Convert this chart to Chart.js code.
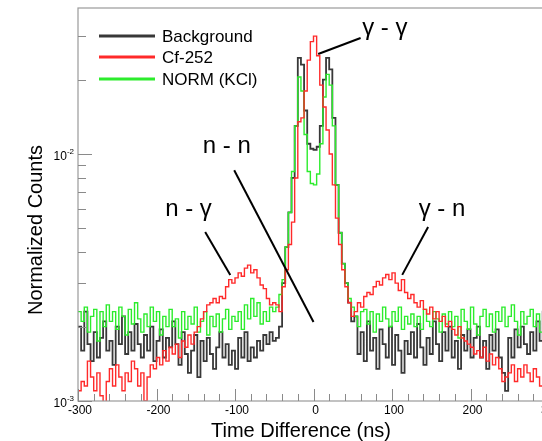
<!DOCTYPE html>
<html>
<head>
<meta charset="utf-8">
<script src="https://cdn.jsdelivr.net/npm/chart.js@4.4.1/dist/chart.umd.min.js"></script>
<style>
  html, body { margin: 0; padding: 0; background: #fff; overflow: hidden; }
  canvas { display: block; }
</style>
</head>
<body>
<canvas id="tofChart" width="560" height="441"></canvas>
<script>
// histogram bins: 4 ns wide, from -300 to 300 ns
const binStart = -300;
const binWidth = 4;
const countUnit = 1e-3; // values below are in units of 1e-3

const background = [
  // -300 .. -200
  2.0, 1.6, 2.3, 1.7, 1.45, 1.9, 1.5, 1.8, 2.1, 1.6, 1.75, 1.4, 2.0, 1.7, 2.2, 1.55, 1.9, 1.6, 2.05, 1.7, 1.5, 1.85, 1.6, 2.0, 1.45,
  // -200 .. -100
  1.75, 1.95, 1.5, 1.8, 1.65, 2.1, 1.7, 1.4, 1.9, 1.55, 1.3, 1.6, 1.85, 1.25, 1.75, 1.45, 1.8, 1.55, 1.35, 1.65, 1.9, 1.5, 1.7, 1.4, 1.6,
  // -100 .. -48
  1.35, 1.8, 1.5, 1.9, 1.45, 1.65, 1.5, 1.75, 1.6, 1.85, 1.7, 1.9, 1.75,
  // -48 .. 48
  1.8, 2.0, 3.0, 4.2, 5.8, 8.0, 13, 24.5, 23, 15, 11, 10.5,
  10.4, 10.7, 13, 20, 24.5, 22, 14, 7.5, 4.8, 3.6, 3.0, 2.5,
  // 48 .. 100
  2.1, 2.2, 1.55, 1.9, 1.45, 2.1, 1.6, 1.8, 1.35, 1.95, 1.7, 1.5, 2.0,
  // 100 .. 200
  1.4, 1.85, 1.6, 1.3, 1.75, 1.55, 1.9, 1.5, 2.05, 1.65, 1.4, 1.8, 1.55, 2.1, 1.7, 1.45, 1.9, 1.6, 2.0, 1.5, 1.75, 1.35, 1.85, 1.6, 1.95,
  // 200 .. 300
  1.5, 1.8, 2.0, 1.5, 1.75, 1.35, 1.85, 1.6, 1.95, 1.5, 1.3, 1.1, 1.8, 1.5, 1.95, 1.65, 2.0, 1.7, 1.55, 1.9, 1.6, 2.1, 1.75, 2.3, 2.7
];

const cf252 = [
  1.1, 1.2, 1.15, 1.45, 1.25, 1.1, 1.3, 1.05, 0.97, 1.2, 1.35, 1.15, 1.4, 1.25, 1.1, 1.3, 1.2, 1.45, 1.35, 1.15, 1.3, 1.0, 1.25, 1.4, 1.35,
  1.5, 1.4, 1.6, 1.45, 1.65, 1.55, 1.7, 1.5, 1.75, 1.65, 1.85, 1.7, 1.9, 2.0, 2.15, 2.3, 2.45, 2.5, 2.6, 2.5, 2.65, 2.6, 2.9, 3.1, 3.0,
  3.15, 3.3, 3.2, 3.45, 3.55, 3.3, 3.4, 3.15, 2.95, 2.85, 2.6, 2.45, 2.5,
  2.45, 2.3, 2.9, 3.4, 4.3, 5.3, 8.0, 13.5, 14, 18, 24, 28.5,
  30, 25, 19, 15.5, 12.5, 10, 7.5, 5.5, 4.3, 3.4, 2.9, 2.5,
  2.2, 2.3, 2.5, 2.4, 2.65, 2.75, 2.7, 2.9, 3.05, 2.95, 3.15, 3.25, 3.1,
  3.3, 3.0, 2.8, 3.1, 2.75, 2.6, 2.7, 2.5, 2.4, 2.55, 2.35, 2.25, 2.4, 2.15, 2.3, 2.1, 2.2, 2.0, 2.1, 1.95, 1.85, 2.0, 1.8, 1.75, 1.7,
  1.65, 1.55, 1.6, 1.5, 1.65, 1.45, 1.55, 1.4, 1.5, 1.35, 1.2, 1.25, 1.3, 1.4, 1.2, 1.35, 1.25, 1.4, 1.3, 1.2, 1.35, 1.25, 1.15, 1.3, 1.2
];

const normKCl = [
  2.3, 2.1, 2.4, 1.9, 2.2, 2.35, 1.75, 2.3, 2.0, 2.45, 2.1, 2.3, 1.95, 2.4, 2.2, 1.85, 2.35, 2.05, 2.5, 2.15, 1.9, 2.25, 2.0, 2.4, 2.1,
  2.3, 1.85, 2.2, 2.0, 2.35, 2.0, 2.15, 1.8, 2.3, 1.95, 2.2, 2.05, 2.4, 1.9, 2.1, 2.3, 1.85, 2.2, 2.0, 2.25, 1.9, 2.15, 2.35, 1.95, 2.2,
  2.1, 2.3, 1.95, 2.45, 2.15, 2.6, 2.2, 2.5, 2.05, 2.3, 2.1, 2.4, 2.3,
  2.4, 2.7, 3.1, 4.2, 5.8, 8.5, 13, 20.5, 18, 12, 8.5, 7.6,
  7.5, 8.3, 11, 17, 21, 19, 13, 7.5, 4.8, 3.6, 3.0, 2.6,
  2.4, 2.2, 2.0, 2.3, 2.35, 2.05, 2.3, 1.9, 2.25, 2.1, 2.4, 2.15, 2.0,
  2.3, 2.1, 2.4, 1.95, 2.2, 2.05, 2.25, 2.0, 2.2, 1.95, 2.35, 2.1, 2.0, 2.3, 2.15, 1.9, 2.25, 2.05, 2.3, 2.0, 2.2, 1.8, 2.35, 2.1, 1.95,
  2.4, 2.05, 1.85, 2.2, 2.35, 2.0, 2.25, 1.9, 2.3, 2.1, 2.4, 2.0, 2.2, 2.45, 2.1, 1.85, 2.3, 2.05, 2.2, 2.35, 2.0, 2.25, 1.9, 2.3, 2.1
];

const xMajorTicks = [-300, -200, -100, 0, 100, 200, 300];
const yDecades = [1e-3, 1e-2];
const yDecadeLabels = ['-3', '-2'];

// peak labels, anchored in data units (ns, counts)
const annotations = [
  { text: 'n - n',  tx: -141, ty: 0.0101, from: [-101, 0.0086], to: [0, 0.00209] },
  { text: 'n - \u03b3', tx: -189, ty: 0.0056, from: [-138, 0.00483], to: [-106, 0.00324] },
  { text: '\u03b3 - n', tx: 134, ty: 0.0056, from: [146, 0.00506], to: [113, 0.00324] },
  { text: '\u03b3 - \u03b3', tx: 62, ty: 0.0303, from: [6, 0.0254], to: [60, 0.0295] }
];

function toSteps(values) {
  const pts = values.map((v, i) => ({ x: binStart + i * binWidth, y: v * countUnit }));
  pts.push({ x: binStart + values.length * binWidth, y: values[values.length - 1] * countUnit });
  return pts;
}

const seriesStyle = [
  { label: 'Background', data: background, color: '#383838', width: 1.8, order: 3 },
  { label: 'Cf-252', data: cf252, color: '#ff2a2a', width: 1.4, order: 1 },
  { label: 'NORM (KCl)', data: normKCl, color: '#2cec2c', width: 1.4, order: 2 }
];

const FONT = '"Liberation Sans", Arial, sans-serif';

const framePlugin = {
  id: 'frame',
  afterDatasetsDraw(chart) {
    const ctx = chart.ctx;
    const a = chart.chartArea;
    const xs = chart.scales.x;
    const ys = chart.scales.y;
    ctx.save();

    // axis box
    ctx.strokeStyle = '#9a9a9a';
    ctx.lineWidth = 1.2;
    ctx.strokeRect(a.left, a.top, a.right - a.left, a.bottom - a.top);

    // x ticks (inward)
    ctx.strokeStyle = '#8a8a8a';
    ctx.lineWidth = 1;
    for (let v = -300; v <= 300; v += 20) {
      const px = Math.round(xs.getPixelForValue(v)) + 0.5;
      const len = (v % 100 === 0) ? 12 : 7;
      ctx.beginPath();
      ctx.moveTo(px, a.bottom);
      ctx.lineTo(px, a.bottom - len);
      ctx.stroke();
    }
    // y ticks (inward), log minor ticks
    yDecades.forEach(d => {
      for (let m = 1; m <= 9; m++) {
        const v = d * m;
        if (v > ys.max) break;
        const py = Math.round(ys.getPixelForValue(v)) + 0.5;
        const len = m === 1 ? 14 : 8;
        ctx.beginPath();
        ctx.moveTo(a.left, py);
        ctx.lineTo(a.left + len, py);
        ctx.stroke();
      }
    });

    // x tick labels
    ctx.fillStyle = '#000';
    ctx.font = '12px ' + FONT;
    ctx.textAlign = 'center';
    ctx.textBaseline = 'alphabetic';
    xMajorTicks.forEach(v => {
      ctx.fillText(String(v), xs.getPixelForValue(v) + 2, a.bottom + 13);
    });

    // y tick labels 10^n
    yDecades.forEach((d, i) => {
      const py = ys.getPixelForValue(d);
      ctx.font = '8px ' + FONT;
      ctx.textAlign = 'right';
      const supW = ctx.measureText(yDecadeLabels[i]).width;
      ctx.fillText(yDecadeLabels[i], a.left - 4, py + 0);
      ctx.font = '12px ' + FONT;
      ctx.fillText('10', a.left - 4 - supW, py + 6);
    });

    // axis titles
    ctx.font = '20px ' + FONT;
    ctx.textAlign = 'center';
    ctx.fillText('Time Difference (ns)', 301, 437);
    ctx.save();
    ctx.translate(42, 230);
    ctx.rotate(-Math.PI / 2);
    ctx.fillText('Normalized Counts', 0, 0);
    ctx.restore();

    // legend
    ctx.font = '17px ' + FONT;
    ctx.textAlign = 'left';
    ctx.textBaseline = 'middle';
    const legendY = [36, 57, 79];
    seriesStyle.forEach((s, i) => {
      ctx.strokeStyle = s.color;
      ctx.lineWidth = 3;
      ctx.beginPath();
      ctx.moveTo(99, legendY[i]);
      ctx.lineTo(155, legendY[i]);
      ctx.stroke();
      ctx.fillStyle = '#000';
      ctx.fillText(s.label, 162, legendY[i] + 1);
    });

    // peak annotations
    ctx.font = '24px ' + FONT;
    ctx.textBaseline = 'alphabetic';
    ctx.strokeStyle = '#000';
    ctx.lineWidth = 2;
    annotations.forEach(an => {
      ctx.fillText(an.text, xs.getPixelForValue(an.tx), ys.getPixelForValue(an.ty));
      ctx.beginPath();
      ctx.moveTo(xs.getPixelForValue(an.from[0]), ys.getPixelForValue(an.from[1]));
      ctx.lineTo(xs.getPixelForValue(an.to[0]), ys.getPixelForValue(an.to[1]));
      ctx.stroke();
    });

    ctx.restore();
  }
};

const ctx = document.getElementById('tofChart').getContext('2d');
new Chart(ctx, {
  type: 'line',
  data: {
    datasets: seriesStyle.map(s => ({
      label: s.label,
      data: toSteps(s.data),
      borderColor: s.color,
      borderWidth: s.width,
      stepped: true,
      pointRadius: 0,
      fill: false,
      order: s.order
    }))
  },
  options: {
    responsive: false,
    animation: false,
    layout: { padding: { left: 78, top: 8, right: 11, bottom: 40 } },
    plugins: { legend: { display: false }, tooltip: { enabled: false } },
    scales: {
      x: { type: 'linear', min: -300, max: 300, display: false },
      y: { type: 'logarithmic', min: 0.001, max: 0.039, display: false }
    }
  },
  plugins: [framePlugin]
});
</script>
</body>
</html>
